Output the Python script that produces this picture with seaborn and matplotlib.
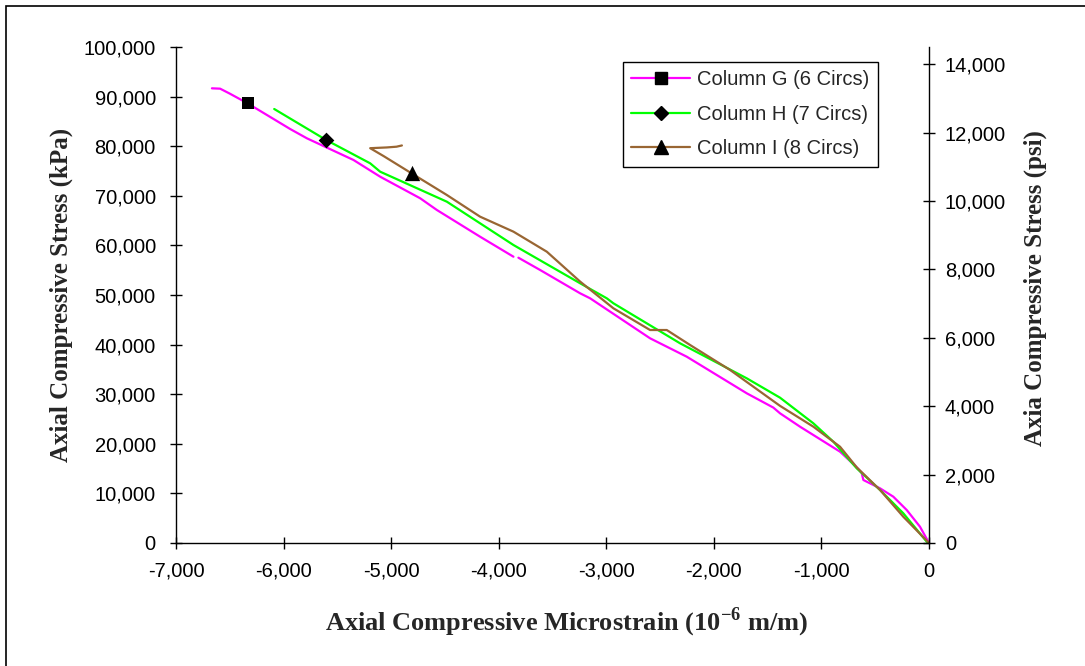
import matplotlib
matplotlib.use("Agg")
import numpy as np
import pandas as pd
import matplotlib.pyplot as plt
import seaborn as sns
from matplotlib.lines import Line2D
from matplotlib.patches import Rectangle
from matplotlib.ticker import FuncFormatter

# ---------------- data ----------------
series_names = ["Column G (6 Circs)", "Column H (7 Circs)", "Column I (8 Circs)"]

# Column G: two segments (small gap near -3,840 microstrain)
g_strain = [0, -84, -207, -332, -455, -610, -625, -672, -827, -1199, -1385, -1447,
            -1694, -2252, -2593, -3150, -3243, -3615, -3817,
            -3863, -4173, -4575, -4730, -5102, -5350, -5783, -5939, -6335, -6500,
            -6590, -6666]
g_stress = [0, 3290, 6650, 9340, 11020, 12700, 14050, 15260, 18410, 23450, 26150, 27300,
            30180, 37560, 41270, 49330, 50340, 55040, 57520,
            57720, 61750, 67140, 69500, 73850, 77220, 81590, 83470, 88650, 90600,
            91600, 91670]
g_segment = ["G1"] * 19 + ["G2"] * 12

h_strain = [0, -21, -239, -455, -672, -889, -1075, -1385, -1694, -2314, -2934, -2995,
            -3243, -3863, -4482, -5102, -5195, -5604, -6087]
h_stress = [0, 260, 5990, 10690, 15060, 20420, 24130, 29300, 33200, 40260, 48330, 49330,
            52360, 60080, 68810, 74860, 76550, 81250, 87500]

i_strain = [0, -239, -455, -672, -827, -1075, -1385, -1849, -2221, -2438, -2593, -2934,
            -3243, -3553, -3863, -4173, -4482, -4808, -5071, -5195, -5040, -4950, -4900]
i_stress = [0, 5300, 10690, 15260, 19410, 23450, 27650, 34880, 39920, 42940, 42940, 47320,
            52700, 58730, 62770, 65790, 70160, 74500, 78020, 79600, 79750, 79900, 80150]

# one marker per series
marker_strain = [-6335, -5604, -4808]
marker_stress = [88650, 81250, 74500]

x_ticks = [-7000, -6000, -5000, -4000, -3000, -2000, -1000, 0]
kpa_ticks = [0, 10000, 20000, 30000, 40000, 50000, 60000, 70000, 80000, 90000, 100000]
psi_ticks = [0, 2000, 4000, 6000, 8000, 10000, 12000, 14000]
KPA_PER_PSI = 6.895

# ---------------- frame ----------------
df = pd.concat([
    pd.DataFrame({"strain": g_strain, "stress": g_stress, "column": series_names[0], "seg": g_segment}),
    pd.DataFrame({"strain": h_strain, "stress": h_stress, "column": series_names[1], "seg": "H"}),
    pd.DataFrame({"strain": i_strain, "stress": i_stress, "column": series_names[2], "seg": "I"}),
], ignore_index=True)
mk = pd.DataFrame({"strain": marker_strain, "stress": marker_stress, "column": series_names})

colors = {series_names[0]: "#FF00FF", series_names[1]: "#00FF00", series_names[2]: "#996633"}
markers = {series_names[0]: "s", series_names[1]: "D", series_names[2]: "^"}
msizes = {series_names[0]: 9, series_names[1]: 8, series_names[2]: 11}

sns.set_theme(style="white")
plt.rcParams["font.family"] = ["Liberation Sans", "DejaVu Sans"]
plt.rcParams["axes.unicode_minus"] = False
plt.rcParams["mathtext.fontset"] = "custom"
plt.rcParams["mathtext.bf"] = "Liberation Serif:bold"
plt.rcParams["mathtext.rm"] = "Liberation Serif:bold"

fig = plt.figure(figsize=(10.85, 6.66), dpi=100)
ax = fig.add_axes([176 / 1085, 1 - 543 / 666, (929 - 176) / 1085, (543 - 47) / 666])

sns.lineplot(data=df, x="strain", y="stress", hue="column", units="seg", estimator=None,
             sort=False, palette=colors, lw=1.6, legend=False, ax=ax)
for name in series_names:
    sub = mk[mk["column"] == name]
    sns.scatterplot(data=sub, x="strain", y="stress", marker=markers[name], color="black",
                    s=msizes[name] ** 2, edgecolor="black", linewidth=0, legend=False,
                    ax=ax, zorder=5)

ax.set_xlim(-7000, 0)
ax.set_ylim(0, 100000)
ax.set_xticks(x_ticks)
ax.set_yticks(kpa_ticks)
fmt = FuncFormatter(lambda v, _: f"{v:,.0f}")
ax.xaxis.set_major_formatter(fmt)
ax.yaxis.set_major_formatter(fmt)

ax2 = ax.twinx()
ax2.set_ylim(0, 100000 / KPA_PER_PSI)
ax2.set_yticks(psi_ticks)
ax2.yaxis.set_major_formatter(fmt)

for a in (ax, ax2):
    for s in a.spines.values():
        s.set_color("black")
        s.set_linewidth(1.0)
    a.spines["top"].set_visible(False)
ax.spines["right"].set_visible(False)
ax2.spines["left"].set_visible(False)
ax2.spines["bottom"].set_visible(False)

ax.tick_params(axis="both", direction="inout", length=9, width=1, color="black",
               labelsize=14.5, labelcolor="black", left=True, bottom=True)
ax.tick_params(axis="y", pad=10)
ax.tick_params(axis="x", pad=9)
ax2.tick_params(axis="y", direction="inout", length=9, width=1, color="black",
                labelsize=14.5, labelcolor="black", right=True, pad=7)

serif_bold = dict(family="Liberation Serif", weight="bold", size=18)
ax.set_xlabel(r"Axial Compressive Microstrain (10$^{\mathbf{-6}}$ m/m)",
              family="Liberation Serif", weight="bold", size=19)
ax.xaxis.set_label_coords(0.519, -0.159)
ax.xaxis.label.set_va("center")
ax.set_ylabel("Axial Compressive Stress (kPa)", **serif_bold)
ax.yaxis.set_label_coords(-0.153, 0.5)
ax.yaxis.label.set_va("center")
ax2.set_ylabel("Axia Compressive Stress (psi)", rotation=90, **serif_bold)
ax2.yaxis.set_label_coords(1.1408, 0.514)
ax2.yaxis.label.set_va("center")

handles = [Line2D([0], [0], color=colors[n], lw=1.6, marker=markers[n], markersize=msizes[n] * 0.9,
                  markerfacecolor="black", markeredgecolor="black") for n in series_names]
leg = ax2.legend(handles, series_names, loc="upper left", bbox_to_anchor=(0.5936, 0.9698),
                 borderaxespad=0, fontsize=14.5, frameon=True, fancybox=False, shadow=False,
                 handlelength=2.95, handletextpad=0.35, labelspacing=0.78, borderpad=0.4,
                 edgecolor="black", framealpha=1)
leg.get_frame().set_linewidth(1.0)

# outer chart border (right/bottom edges fall outside the image)
fig.patches.append(Rectangle((6 / 1085, -10 / 666), 1.1, (660 + 10) / 666,
                             transform=fig.transFigure, fill=False, edgecolor="black",
                             lw=1.2, clip_on=False))

fig.savefig("out.png", dpi=100, facecolor="white")
